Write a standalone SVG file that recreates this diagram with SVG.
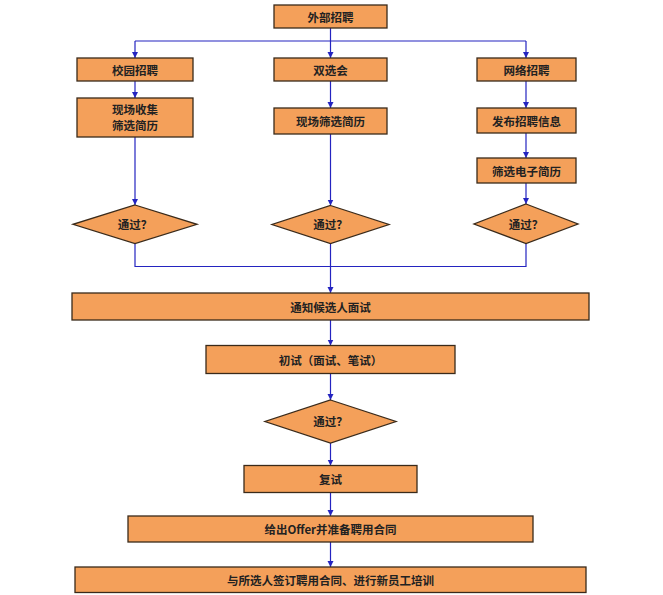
<svg xmlns="http://www.w3.org/2000/svg" width="663" height="595" viewBox="0 0 663 595">
<style>
.n{fill:#F4A05A;stroke:#3a2a1a;stroke-width:1.3}
.t{font-family:"Noto Sans CJK SC","DejaVu Sans",sans-serif;font-size:11.5px;font-weight:bold;fill:#222;text-anchor:middle;dominant-baseline:central}
.c{fill:none;stroke:#2424C0;stroke-width:1.2}
</style>
<defs>
<marker id="a" viewBox="0 0 8 8" refX="8" refY="4" markerWidth="6" markerHeight="7" orient="auto" markerUnits="userSpaceOnUse">
<path d="M0,0 L8,4 L0,8 Z" fill="#2424C0"/>
</marker>
</defs>
<rect width="663" height="595" fill="#fff"/>
<g id="connectors">
<path class="c" d="M330.5,28 V41 M135,41 H526"/>
<path class="c" d="M135,41 V58" marker-end="url(#a)"/>
<path class="c" d="M330.5,41 V58" marker-end="url(#a)"/>
<path class="c" d="M526,41 V58" marker-end="url(#a)"/>
<path class="c" d="M135,81 V98" marker-end="url(#a)"/>
<path class="c" d="M330.5,81 V108" marker-end="url(#a)"/>
<path class="c" d="M526,81 V108" marker-end="url(#a)"/>
<path class="c" d="M526,133 V158" marker-end="url(#a)"/>
<path class="c" d="M135,137 V205" marker-end="url(#a)"/>
<path class="c" d="M330.5,134 V205.5" marker-end="url(#a)"/>
<path class="c" d="M526,183 V204" marker-end="url(#a)"/>
<path class="c" d="M135,243.5 V266.5 H526 V243.5"/>
<path class="c" d="M330.5,243.5 V293" marker-end="url(#a)"/>
<path class="c" d="M330.5,320 V345.5" marker-end="url(#a)"/>
<path class="c" d="M330.5,373.5 V400" marker-end="url(#a)"/>
<path class="c" d="M330.5,443 V465.5" marker-end="url(#a)"/>
<path class="c" d="M330.5,492.5 V516" marker-end="url(#a)"/>
<path class="c" d="M330.5,542 V567" marker-end="url(#a)"/>
</g>
<g id="n1"><rect class="n" x="274" y="5" width="113" height="23"/><text class="t" x="330.5" y="16.5">外部招聘</text></g>
<g id="n2"><rect class="n" x="77" y="58" width="116" height="23"/><text class="t" x="135" y="69.5">校园招聘</text></g>
<g id="n3"><rect class="n" x="274" y="58" width="113" height="23"/><text class="t" x="330.5" y="69.5">双选会</text></g>
<g id="n4"><rect class="n" x="477" y="58" width="99" height="23"/><text class="t" x="526.5" y="69.5">网络招聘</text></g>
<g id="n5"><rect class="n" x="77" y="98" width="116" height="39"/><text class="t" x="135" y="109">现场收集</text><text class="t" x="135" y="125">筛选简历</text></g>
<g id="n6"><rect class="n" x="274" y="108" width="113" height="26"/><text class="t" x="330.5" y="121">现场筛选简历</text></g>
<g id="n7"><rect class="n" x="477" y="108" width="99" height="25"/><text class="t" x="526.5" y="120.5">发布招聘信息</text></g>
<g id="n8"><rect class="n" x="477" y="158" width="99" height="25"/><text class="t" x="526.5" y="170.5">筛选电子简历</text></g>
<g id="d1"><polygon class="n" points="135,205 197,224.3 135,243.5 73,224.3"/><text class="t" x="135" y="224">通过？</text></g>
<g id="d2"><polygon class="n" points="330.5,205.5 389,224.5 330.5,243.5 272,224.5"/><text class="t" x="330.5" y="224">通过？</text></g>
<g id="d3"><polygon class="n" points="526,204 578,224 526,243.5 474,224"/><text class="t" x="526" y="223.5">通过？</text></g>
<g id="n9"><rect class="n" x="72" y="293" width="517" height="27"/><text class="t" x="330.5" y="306.5">通知候选人面试</text></g>
<g id="n10"><rect class="n" x="206" y="345.5" width="249" height="28"/><text class="t" x="330.5" y="359.5">初试（面试、笔试）</text></g>
<g id="d4"><polygon class="n" points="330.5,400 396,421.5 330.5,443 265,421.5"/><text class="t" x="330.5" y="421">通过？</text></g>
<g id="n11"><rect class="n" x="244" y="465.5" width="173" height="27"/><text class="t" x="330.5" y="479">复试</text></g>
<g id="n12"><rect class="n" x="128" y="516" width="405" height="26"/><text class="t" x="330.5" y="529">给出Offer并准备聘用合同</text></g>
<g id="n13"><rect class="n" x="75" y="567" width="511" height="25.5"/><text class="t" x="330.5" y="579.5">与所选人签订聘用合同、进行新员工培训</text></g>
</svg>
